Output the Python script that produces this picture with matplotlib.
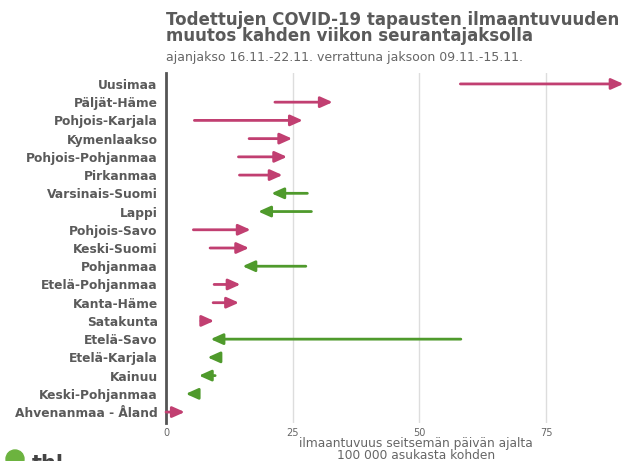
import matplotlib
matplotlib.use("Agg")
import matplotlib.pyplot as plt
from matplotlib.patches import Ellipse

regions = ["Uusimaa", "Päljät-Häme", "Pohjois-Karjala", "Kymenlaakso",
           "Pohjois-Pohjanmaa", "Pirkanmaa", "Varsinais-Suomi", "Lappi",
           "Pohjois-Savo", "Keski-Suomi", "Pohjanmaa", "Etelä-Pohjanmaa",
           "Kanta-Häme", "Satakunta", "Etelä-Savo", "Etelä-Karjala",
           "Kainuu", "Keski-Pohjanmaa", "Ahvenanmaa - Åland"]
prev_week = [58.1, 21.5, 5.6, 16.4, 14.3, 14.5, 27.9, 28.7, 5.4, 8.7,
             27.6, 9.5, 9.3, 6.9, 58.2, 10.3, 9.7, 6.0, 0.0]
this_week = [90.3, 32.9, 27.0, 24.9, 23.9, 23.0, 20.8, 18.2, 16.7, 16.4,
             15.1, 14.7, 14.4, 9.5, 8.8, 8.2, 6.5, 3.9, 3.7]
xticks = [0, 25, 50, 75]

PINK = "#c13f71"
GREEN = "#4f9a2c"
TXT = "#5a5a5a"

fig = plt.figure(figsize=(6.24, 4.61), dpi=100)
ax = fig.add_axes([166/624, 1-423/461, 1-166/624, (423-73)/461])

n = len(regions)
ys = list(range(n))
for y, a, b in zip(ys, prev_week, this_week):
    col = PINK if b > a else GREEN
    ax.annotate("", xy=(b, y), xytext=(a, y),
                arrowprops=dict(arrowstyle="-|>,head_length=0.85,head_width=0.38",
                                mutation_scale=8.5, lw=2.0, color=col,
                                shrinkA=0, shrinkB=0),
                annotation_clip=False)

ax.set_xlim(0, 90.4)
ax.set_ylim(n - 1 + 0.6, -0.6)
ax.set_yticks(ys)
ax.set_yticklabels(regions, fontsize=8.8, fontweight="bold", color=TXT)
ax.set_xticks(xticks)
ax.set_xticklabels([str(t) for t in xticks], fontsize=7, color="#666666")
ax.tick_params(axis="both", length=0)
ax.tick_params(axis="y", pad=6)
ax.tick_params(axis="x", pad=3.5)
ax.grid(axis="x", color="#dddddd", lw=1)
ax.set_axisbelow(True)
for s in ["top", "right", "bottom"]:
    ax.spines[s].set_visible(False)
ax.spines["left"].set_color("#555555")
ax.spines["left"].set_linewidth(2)

fig.text(416/624, 1-449.5/461, "ilmaantuvuus seitsemän päivän ajalta\n100 000 asukasta kohden",
         ha="center", va="center", fontsize=8.8, color="#666666", linespacing=0.85)

fig.text(166/624, 1-28/461, "Todettujen COVID-19 tapausten ilmaantuvuuden\nmuutos kahden viikon seurantajaksolla",
         ha="left", va="center", fontsize=12, fontweight="bold", color=TXT, linespacing=0.92)
fig.text(166/624, 1-57/461, "ajanjakso 16.11.-22.11. verrattuna jaksoon 09.11.-15.11.",
         ha="left", va="center", fontsize=9, color="#666666")

# logo
fig.patches.append(Ellipse((15/624, 1-459/461), 18/624, 18/461, transform=fig.transFigure,
                           color="#6cb33f", zorder=5))
fig.text(32/624, 1-470/461, "thl", ha="left", va="baseline", fontsize=15,
         fontweight="bold", color="#444444")

fig.savefig("out.png", dpi=100)
